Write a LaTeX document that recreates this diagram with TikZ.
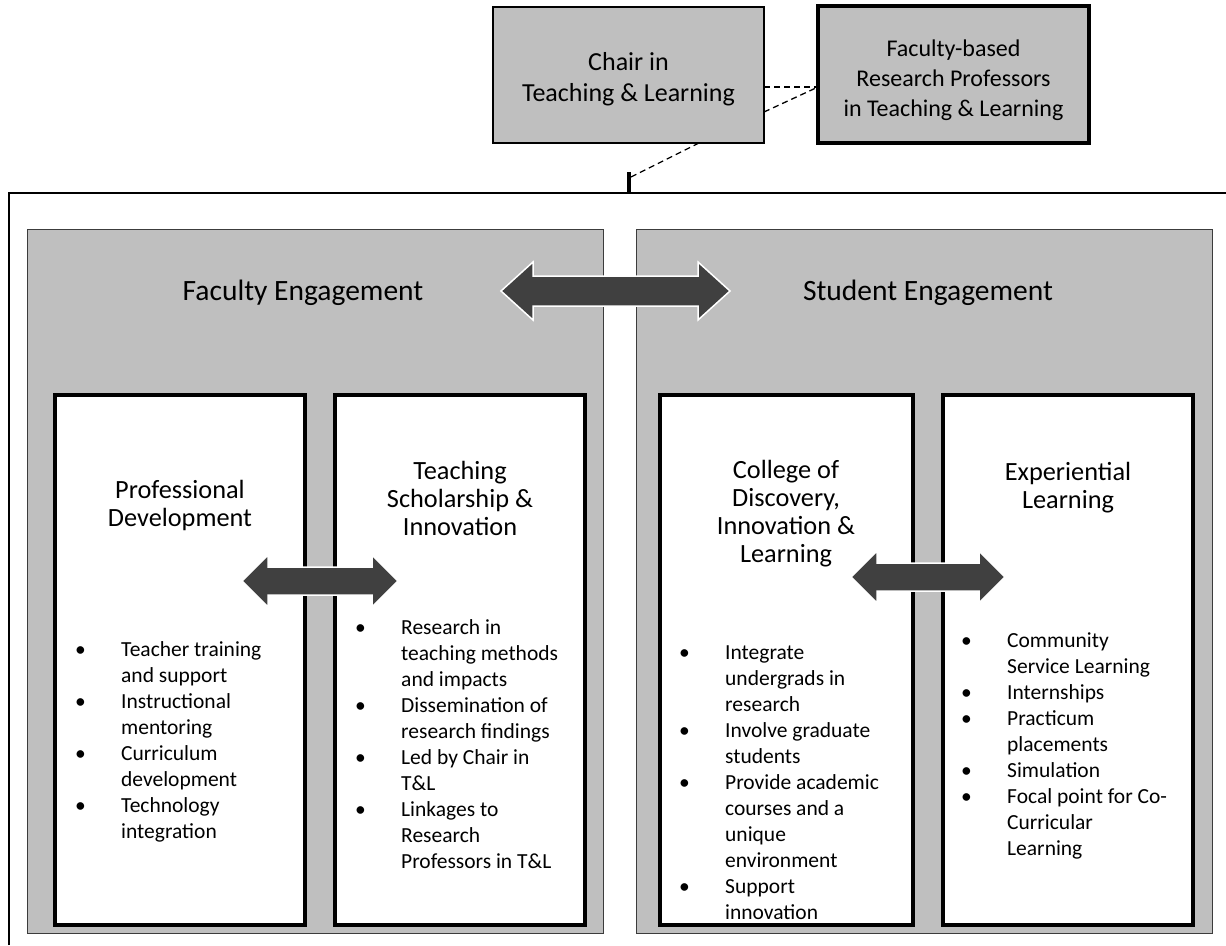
\documentclass[tikz,border=0pt]{standalone}
\usepackage{fontspec}
\setmainfont{Carlito}
\usetikzlibrary{calc}
\definecolor{panelgray}{RGB}{191,191,191}
\definecolor{arrowgray}{RGB}{64,64,64}
\definecolor{edgegray}{RGB}{60,60,60}
\newcommand{\bul}{\makebox[46pt][l]{\textbullet}}
\newcommand{\ind}{\hspace*{46pt}}
\begin{document}
\begin{tikzpicture}[x=1pt,y=-1pt,
  panel/.style={draw=edgegray, line width=1pt, fill=panelgray, anchor=north west, inner sep=0pt, outer sep=0pt},
  wbox/.style={draw=black, line width=3.5pt, fill=white, anchor=north west, inner sep=0pt, outer sep=0pt, minimum height=530pt},
  topbox/.style={draw=black, fill=panelgray, align=center, anchor=north west, inner sep=0pt, outer sep=0pt},
  bigarr/.style={fill=arrowgray, draw=white, line width=1.5pt, line join=miter},
  titletext/.style={align=center, anchor=north, inner sep=0pt, font=\fontsize{26.3}{28}\selectfont},
  blist/.style={align=left, anchor=north west, inner sep=0pt, font=\fontsize{21.5}{26}\selectfont},
  heading/.style={anchor=base, inner sep=0pt, font=\fontsize{29.5}{35}\selectfont},
  dashlink/.style={dash pattern=on 6pt off 4pt, line width=1.3pt},
  framestyle/.style={line width=2.5pt},
]
\useasboundingbox (0,0) rectangle (1226,945);
\fill[white] (0,0) rectangle (1226,945);

% top boxes
\node[topbox, line width=2pt, minimum width=271pt, minimum height=136pt,
      font=\fontsize{26}{31}\selectfont] (chair) at (493,7) {\rule{0pt}{26pt}Chair in\\Teaching \& Learning};
\node[topbox, line width=4pt, minimum width=271pt, minimum height=137pt,
      font=\fontsize{24}{30}\selectfont] (fb) at (818,6) {\rule{0pt}{28pt}Faculty-based\\Research Professors\\in Teaching \& Learning};

% frame
\draw[framestyle] (9,945) -- (9,193) -- (1226,193);
\coordinate (ticktop) at (629,172);
\coordinate (tickbot) at (629,193);
\draw[line width=3.5pt] (tickbot) -- (ticktop);

% dashed links
\coordinate (fbin) at ($(fb.west)+(0,12.5)$);
\draw[dashlink] (chair.east |- fbin) -- (fbin);
\draw[dashlink] ($(chair.east)+(0,37)$) -- (fbin);
\coordinate (dashend) at (631,177);
\draw[dashlink] ($(chair.south east)!0.24!(chair.south west)$) -- (dashend);

% panels
\node[panel, minimum width=576pt, minimum height=704pt] (fe) at (27,229) {};
\node[panel, minimum width=576pt, minimum height=704pt] (se) at (636,229) {};

\node[heading] (feh) at (303,300) {Faculty Engagement};
\node[heading] (seh) at (928,300) {Student Engagement};

% white boxes
\node[wbox, minimum width=250pt] (pd) at (55,395) {};
\node[wbox, minimum width=250pt] (tsi) at (335,395) {};
\node[wbox, minimum width=253pt] (cdil) at (660,395) {};
\node[wbox, minimum width=250pt] (el) at (943,395) {};

% titles
\node[titletext] (pdt) at (180,479) {\strut Professional\\Development};
\node[titletext] (tsit) at (460,460) {\strut Teaching\\Scholarship \&\\Innovation};
\node[titletext] (cdilt) at (786,459) {\strut College of\\Discovery,\\Innovation \&\\Learning};
\node[titletext] (elt) at (1068,461) {\strut Experiential\\Learning};

% bullet lists
\node[blist] (pdl) at (75,638) {\strut\bul Teacher training\\\ind and support\\\bul Instructional\\\ind mentoring\\\bul Curriculum\\\ind development\\\bul Technology\\\ind integration};
\node[blist] (tsil) at (355,616) {\strut\bul Research in\\\ind teaching methods\\\ind and impacts\\\bul Dissemination of\\\ind research findings\\\bul Led by Chair in\\\ind T\&L\\\bul Linkages to\\\ind Research\\\ind Professors in T\&L};
\node[blist] (cdill) at (679,641) {\strut\bul Integrate\\\ind undergrads in\\\ind research\\\bul Involve graduate\\\ind students\\\bul Provide academic\\\ind courses and a\\\ind unique\\\ind environment\\\bul Support\\\ind innovation};
\node[blist] (ell) at (961,629) {\strut\bul Community\\\ind Service Learning\\\bul Internships\\\bul Practicum\\\ind placements\\\bul Simulation\\\bul Focal point for Co-\\\ind Curricular\\\ind Learning};

% double arrows
\draw[bigarr] (501,291) -- (533,262) -- (533,276) -- (698,276) -- (698,262) -- (730,291)
  -- (698,320) -- (698,306) -- (533,306) -- (533,320) -- cycle;
\draw[bigarr] (242,581) -- (268,555) -- (268,567) -- (372,567) -- (372,555) -- (398,581)
  -- (372,607) -- (372,595) -- (268,595) -- (268,607) -- cycle;
\draw[bigarr] (851,577) -- (877,551) -- (877,563) -- (979,563) -- (979,551) -- (1005,577)
  -- (979,603) -- (979,591) -- (877,591) -- (877,603) -- cycle;
\end{tikzpicture}
\end{document}
